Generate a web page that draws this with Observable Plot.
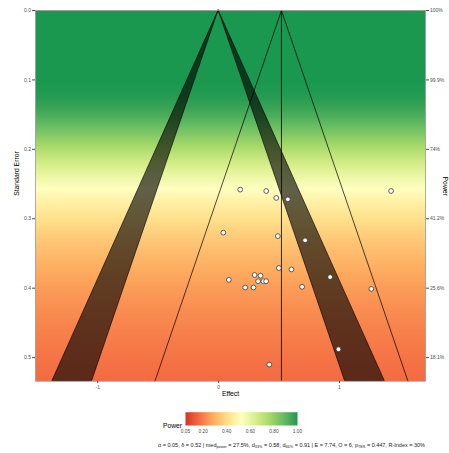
<!DOCTYPE html>
<html><head><meta charset="utf-8">
<script src="https://cdn.jsdelivr.net/npm/d3@7"></script>
<script src="https://cdn.jsdelivr.net/npm/@observablehq/plot@0.6"></script>
<style>
body{margin:0;background:#fff;font-family:"Liberation Sans",Arial,sans-serif;}
#wrap{position:relative;width:449px;height:453px;overflow:hidden;background:#fff;}
#main{position:absolute;left:0;top:0;}
#legend{position:absolute;left:175px;top:408px;}
#powerLabel{position:absolute;left:163px;top:421.5px;font-size:6.7px;color:#000;line-height:8px;}
#caption{position:absolute;right:24px;top:442.3px;font-size:5.5px;color:#1a1a1a;white-space:nowrap;line-height:7px;}
#caption sub{font-size:3.8px;vertical-align:-1px;}
</style></head><body><div id="wrap"><div id="main"></div><div id="powerLabel">Power</div><div id="legend"></div><div id="caption"></div></div>
<script>
// ---- data ----
const effects = [0.179, 0.394, 0.477, 0.573, 1.427, 0.039, 0.490, 0.716, 0.085, 0.298, 0.347, 0.327, 0.371, 0.393, 0.220, 0.289, 0.499, 0.603, 0.691, 0.923, 1.264, 0.992, 0.419];
const standardErrors = [0.258, 0.260, 0.270, 0.272, 0.260, 0.320, 0.325, 0.331, 0.388, 0.381, 0.382, 0.390, 0.390, 0.390, 0.399, 0.399, 0.371, 0.373, 0.398, 0.384, 0.401, 0.488, 0.510];
const pooledEffect = 0.52;       // delta
const zSig = 1.96;               // alpha = 0.05
const zSig01 = 2.576;            // alpha = 0.01
const seMax = 0.534;
const effectDomain = [-1.515, 1.712];
const seTicks = [0, 0.1, 0.2, 0.3, 0.4, 0.5];
const powerTickLabels = ["100%", "99.9%", "74%", "41.2%", "25.6%", "18.1%"];
const effectTicks = [-1, 0, 1];
const legendTicks = [0.05, 0.2, 0.4, 0.6, 0.8, 1.0];
const powerStops = [0.05, 0.16875, 0.2875, 0.40625, 0.525, 0.64375, 0.7625, 0.88125, 1];
const powerColors = ["#d73027", "#f46d43", "#fdae61", "#fee08b", "#ffffbf", "#d9ef8b", "#a6d96a", "#66bd63", "#1a9850"];

const studies = effects.map((e, i) => ({effect: e, se: standardErrors[i]}));

// normal CDF
function erf(x){const s=Math.sign(x);x=Math.abs(x);const t=1/(1+0.3275911*x);
  const y=1-(((((1.061405429*t-1.453152027)*t)+1.421413741)*t-0.284496736)*t+0.254829592)*t*Math.exp(-x*x);return s*y;}
const Phi = x => 0.5*(1+erf(x/Math.SQRT2));
const power = se => se <= 0 ? 1 : 1 - Phi(zSig - pooledEffect/se) + Phi(-zSig - pooledEffect/se);

const colorScale = {type: "linear", domain: powerStops, range: powerColors, interpolate: "lab"};
const edge = [{se: 0}, {se: seMax}];
const funnel = [
  {x: pooledEffect - zSig*seMax, y: seMax},
  {x: pooledEffect, y: 0},
  {x: pooledEffect + zSig*seMax, y: seMax}
];

const main = Plot.plot({
  width: 449, height: 400,
  marginLeft: 35, marginRight: 24, marginTop: 10, marginBottom: 19.3,
  style: {fontFamily: "Liberation Sans, Arial, sans-serif", background: "transparent"},
  x: {domain: effectDomain},
  y: {domain: [0, seMax], reverse: true},
  color: colorScale,
  marks: [
    Plot.raster({x1: effectDomain[0], x2: effectDomain[1], y1: 0, y2: seMax, fill: (x, y) => power(y), pixelSize: 1}),
    // significance contour bands (p 0.05 - 0.01)
    Plot.areaX(edge, {y: "se", x1: d => zSig*d.se, x2: d => zSig01*d.se, fill: "#000", fillOpacity: 0.62, stroke: "#000", strokeWidth: 0.6}),
    Plot.areaX(edge, {y: "se", x1: d => -zSig*d.se, x2: d => -zSig01*d.se, fill: "#000", fillOpacity: 0.62, stroke: "#000", strokeWidth: 0.6}),
    // funnel around pooled effect
    Plot.line(funnel, {x: "x", y: "y", stroke: "#000", strokeWidth: 0.7}),
    Plot.ruleX([pooledEffect], {y1: 0, y2: seMax, stroke: "#000", strokeWidth: 0.8}),
    Plot.dot(studies, {x: "effect", y: "se", r: 2.4, fill: "#fff", stroke: "#3a3a3a", strokeWidth: 0.8}),
    Plot.frame({stroke: "#9a9a9a", strokeWidth: 0.8}),
    Plot.axisX({ticks: effectTicks, tickFormat: d => String(d), tickSize: 2.5, tickPadding: 1.5, fontSize: 5, color: "#4d4d4d", label: null}),
    Plot.axisY({anchor: "left", ticks: seTicks, tickFormat: d => d.toFixed(1), tickSize: 3, tickPadding: 1.5, fontSize: 5, color: "#4d4d4d", label: null}),
    Plot.axisY({anchor: "right", ticks: seTicks, tickFormat: d => powerTickLabels[seTicks.indexOf(d)], tickSize: 3, tickPadding: 1.5, fontSize: 5, color: "#4d4d4d", label: null}),
    Plot.text(["Effect"], {frameAnchor: "bottom", dy: 14.3, fontSize: 6.8, fill: "#000"}),
    Plot.text(["Standard Error"], {frameAnchor: "left", dx: -19, rotate: -90, fontSize: 6.8, fill: "#000"}),
    Plot.text(["Power"], {frameAnchor: "right", dx: 20, rotate: 90, fontSize: 6.8, fill: "#000"})
  ]
});
document.getElementById("main").appendChild(main);

const legend = Plot.plot({
  width: 132, height: 30,
  marginLeft: 10, marginRight: 10, marginTop: 3.7, marginBottom: 13,
  style: {fontFamily: "Liberation Sans, Arial, sans-serif", background: "transparent"},
  x: {domain: [0.05, 1]},
  y: {domain: [0, 1], axis: null},
  color: colorScale,
  marks: [
    Plot.raster({x1: 0.05, x2: 1, y1: 0, y2: 1, fill: (x, y) => x, pixelSize: 1}),
    Plot.axisX({ticks: legendTicks, tickFormat: d => d.toFixed(2), tickSize: 0, tickPadding: 4, fontSize: 4.8, color: "#4d4d4d", label: null})
  ]
});
document.getElementById("legend").appendChild(legend);

document.getElementById("caption").innerHTML =
  "α = 0.05, δ = 0.52 | med<sub>power</sub> = 27.5%, d<sub>33%</sub> = 0.58, d<sub>66%</sub> = 0.91 | E = 7.74, O = 6, p<sub>TES</sub> = 0.447, R-Index = 30%";
</script></body></html>
